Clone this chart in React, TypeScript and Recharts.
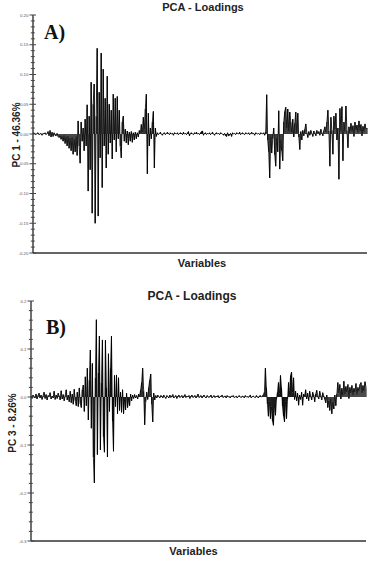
import React from 'react';
import { ComposedChart, Line, Bar, XAxis, YAxis, Label } from 'recharts';

// PC1 loadings (one value per variable)
const pc1Loadings = [
  0.001, 0.002, 0.000, -0.001, 0.001, 0.002, -0.001, 0.000, 0.001, -0.002,
  0.001, 0.000, 0.002, -0.001, 0.001, 0.004, -0.003, 0.006, -0.005, 0.003,
  -0.004, 0.002, -0.002, -0.003, 0.001, -0.004, -0.006, -0.002, -0.009, -0.003,
  -0.012, -0.002, -0.016, -0.004, -0.020, -0.003, -0.024, -0.006, -0.028, -0.005,
  -0.034, -0.008, -0.030, -0.004, -0.036, 0.022, -0.020, -0.049, 0.020, -0.012,
  0.010, -0.028, 0.025, -0.020, 0.049, -0.096, 0.030, -0.060, 0.087, -0.133,
  0.050, 0.084, -0.150, 0.030, 0.144, -0.138, 0.070, -0.040, 0.136, -0.090,
  0.109, -0.020, 0.060, -0.057, 0.097, -0.034, 0.050, -0.015, 0.040, -0.042,
  0.067, -0.010, 0.060, -0.030, 0.063, -0.008, 0.040, -0.020, -0.040, 0.020,
  0.030, -0.012, 0.008, -0.015, 0.005, -0.018, 0.003, -0.012, 0.004, -0.014,
  0.002, -0.010, 0.003, -0.008, 0.002, -0.005,
  0.006, 0.001, 0.016, 0.003, 0.028, 0.008, 0.042, 0.067, -0.067, 0.035,
  -0.020, 0.010, -0.008, 0.020, 0.038, -0.057, 0.010, -0.004,
  0.002, -0.001, 0.001, 0.003, 0.000, -0.002, 0.001, 0.002, -0.001, 0.001,
  0.003, 0.001, -0.001, 0.002, 0.000, 0.001, -0.002, 0.002, 0.001, 0.000,
  0.002, -0.001, 0.001, 0.002, 0.001, -0.001, 0.003, 0.000, 0.001, -0.001,
  0.002, 0.004, -0.003, 0.001, 0.002, 0.000, -0.001, 0.002, 0.001, 0.003,
  0.000, 0.001, -0.001, 0.002, 0.004, 0.005, -0.002, 0.001, 0.002, -0.001,
  0.001, 0.000, 0.002, -0.001, 0.001, 0.003, 0.000, -0.002, 0.001, 0.002,
  0.000, 0.001, -0.001, 0.002, 0.001, 0.000, -0.002, 0.001, -0.003, -0.004,
  0.002, -0.003, -0.002, 0.001, -0.004, 0.002, 0.000, 0.001, -0.001, 0.002,
  0.001, 0.000, 0.003, -0.001, 0.001, 0.002, 0.000, -0.001, 0.002, 0.001,
  0.000, 0.002, -0.001, 0.001, 0.003, 0.000, 0.001, -0.002, 0.002, 0.001,
  0.000, 0.001, -0.001, 0.002, 0.001, 0.000, 0.002, -0.002,
  0.004, 0.066, -0.010, -0.030, -0.074, -0.005, -0.032, -0.008, 0.010, -0.035,
  -0.054, -0.006, -0.030, 0.039, -0.059, -0.010, -0.028, -0.045, 0.020, 0.038,
  0.045, 0.010, 0.042, 0.005, 0.037, 0.020, 0.003, 0.025, -0.005, 0.018,
  0.037, 0.002, 0.035, -0.005, -0.026, 0.004, -0.010, 0.006, -0.003, 0.008,
  0.017, 0.002, -0.006, 0.004, -0.002, 0.006, 0.001, -0.004, 0.005, 0.002,
  -0.003, 0.006, 0.001, 0.004, -0.002, 0.008, 0.002, -0.003, 0.006, 0.012,
  0.003, 0.020, 0.040, 0.005, -0.054, 0.028, 0.006, -0.034, 0.030, 0.008,
  0.035, -0.010, 0.010, -0.076, 0.043, 0.005, 0.046, -0.045, 0.020, 0.004,
  0.047, 0.006, -0.023, 0.012, 0.002, 0.018, 0.004, 0.014, -0.004, 0.020,
  0.006, 0.015, 0.002, 0.022, 0.005, 0.016, -0.003, 0.013, 0.004, 0.017,
  0.008, 0.010,
];

// PC3 loadings (one value per variable)
const pc3Loadings = [
  0.002, -0.003, 0.004, 0.001, -0.002, 0.006, -0.004, 0.003, 0.008, -0.002,
  0.004, -0.005, 0.002, 0.010, -0.003, 0.005, -0.006, 0.003, 0.001, 0.009,
  -0.004, 0.002, -0.002, 0.012, -0.005, 0.004, -0.003, 0.008, 0.002, -0.006,
  0.013, -0.004, 0.005, -0.008, 0.003, 0.015, -0.006, 0.004, -0.010, 0.012,
  -0.012, 0.006, -0.015, 0.016, -0.008, -0.018, 0.010, -0.020, 0.019, -0.014,
  -0.022, 0.015, 0.025, -0.030, 0.042, -0.018, 0.060, -0.048, 0.035, 0.098,
  -0.065, 0.070, -0.125, -0.179, 0.040, 0.161, -0.120, 0.050, 0.127, -0.110,
  0.030, 0.119, -0.083, -0.115, 0.118, 0.020, -0.125, 0.090, -0.030, 0.060,
  0.127, -0.050, -0.113, 0.045, -0.020, 0.046, -0.035, 0.040, -0.028, 0.010,
  -0.032, 0.015, -0.035, -0.005, -0.027, 0.008, -0.022, -0.004, -0.018, 0.006,
  -0.008, 0.004, -0.003, 0.005, -0.002, 0.003, -0.004, 0.006, 0.002, 0.015,
  0.030, 0.060, 0.012, -0.058, -0.010, 0.010, -0.005, 0.020, 0.035, 0.048,
  -0.015, -0.052, 0.008, -0.006, 0.003, -0.002, 0.004, 0.001, -0.002, 0.003,
  0.002, -0.002, 0.004, 0.000, -0.003, 0.003, 0.001, -0.002, 0.004, -0.001,
  0.002, 0.005, -0.002, 0.001, 0.003, -0.003, 0.002, 0.004, -0.001, 0.001,
  0.003, -0.002, 0.002, 0.005, -0.001, 0.002, 0.000, 0.003, -0.003, 0.002,
  0.004, -0.001, 0.001, 0.003, -0.002, 0.002, 0.006, -0.001, 0.001, 0.003,
  -0.002, 0.002, 0.004, 0.000, -0.002, 0.003, 0.001, -0.001, 0.002, 0.004,
  -0.002, 0.001, 0.003, -0.001, 0.002, 0.000, 0.003, -0.002, 0.001, 0.002,
  0.004, -0.001, 0.001, 0.002, -0.002, 0.003, 0.000, 0.001, -0.002, 0.002,
  0.001, 0.003, -0.001, 0.000, 0.002, -0.002, 0.001, 0.003, 0.000, -0.001,
  0.002, 0.001, -0.002, 0.003, 0.000, 0.001, -0.001, 0.002, 0.004, -0.002,
  0.001, 0.002, 0.000, -0.001, 0.003, 0.001, -0.002, 0.002, 0.003, 0.000,
  0.002, 0.005,
  0.010, 0.060, 0.020, -0.015, -0.040, -0.010, -0.045, -0.020, -0.050,
  -0.059, -0.015, -0.038, -0.005, 0.010, 0.030, 0.008, 0.045, 0.020, -0.020,
  -0.040, -0.052, -0.010, -0.045, -0.005, 0.030, 0.005, 0.045, 0.052, 0.010,
  0.040, -0.005, 0.012, -0.008, 0.008, -0.017, 0.004, -0.005, 0.010, -0.017,
  0.006, 0.002, 0.015, -0.004, 0.008, -0.008, 0.012, 0.002, -0.006, 0.010,
  0.004, -0.010, 0.006, 0.014, 0.002, -0.004, 0.012, 0.003, -0.006, 0.009,
  0.002, -0.005, -0.012, 0.004, -0.022, -0.008, -0.028, -0.004, -0.035, -0.010,
  -0.025, 0.004, -0.018, 0.006, 0.030, 0.008, 0.026, -0.004, 0.018, 0.004,
  0.033, 0.006, 0.022, 0.010, 0.026, -0.003, 0.020, 0.008, 0.024, 0.004,
  0.018, 0.010, 0.028, 0.005, 0.020, 0.012, 0.026, 0.030, 0.008, 0.024,
  0.012, 0.032, 0.020,
];

const pc1MajorTicks = [0.2, 0.15, 0.1, 0.05, 0, -0.05, -0.1, -0.15, -0.2];
const pc1TickLabels = ['0.20', '0.15', '0.10', '0.05', '0.00', '-0.05', '-0.10', '-0.15', '-0.20'];
const pc1AllTicks = [
  0.2, 0.19, 0.18, 0.17, 0.16, 0.15, 0.14, 0.13, 0.12, 0.11, 0.1, 0.09, 0.08, 0.07, 0.06,
  0.05, 0.04, 0.03, 0.02, 0.01, 0, -0.01, -0.02, -0.03, -0.04, -0.05, -0.06, -0.07, -0.08,
  -0.09, -0.1, -0.11, -0.12, -0.13, -0.14, -0.15, -0.16, -0.17, -0.18, -0.19, -0.2,
];

const pc3MajorTicks = [0.2, 0.1, 0, -0.1, -0.2, -0.3];
const pc3TickLabels = ['0.2', '0.1', '0.0', '-0.1', '-0.2', '-0.3'];
const pc3AllTicks = [
  0.2, 0.18, 0.16, 0.14, 0.12, 0.1, 0.08, 0.06, 0.04, 0.02, 0, -0.02, -0.04, -0.06, -0.08,
  -0.1, -0.12, -0.14, -0.16, -0.18, -0.2, -0.22, -0.24, -0.26, -0.28, -0.3,
];

const SANS = '"Liberation Sans", Arial, Helvetica, sans-serif';
const SERIF = '"Liberation Serif", "Times New Roman", serif';

const LeftTick = (props: any) => {
  const { x, y, payload, majors, labels } = props;
  const idx = majors.findIndex((m: number) => Math.abs(m - payload.value) < 1e-6);
  const major = idx >= 0;
  return (
    <g>
      <line x1={x - (major ? 3.5 : 2.2)} x2={x + (major ? 3 : 1.8)} y1={y} y2={y} stroke="#444" strokeWidth={1} />
      {major && (
        <text x={x - 4.5} y={y} dy="0.35em" textAnchor="end" fontSize={4.4} fill="#555" fontFamily={SANS}>
          {labels[idx]}
        </text>
      )}
    </g>
  );
};

const RightTick = (props: any) => {
  const { x, y } = props;
  return <line x1={x - 2.5} x2={x} y1={y} y2={y} stroke="#777" strokeWidth={0.9} />;
};

const TopTick = (props: any) => {
  const { x, y } = props;
  return <line x1={x} x2={x} y1={y} y2={y + 2.5} stroke="#777" strokeWidth={0.9} />;
};

const YTitle = (props: any) => {
  const vb = props.viewBox || { x: 0, y: 0, width: 0, height: 0 };
  const cx = (vb.x || 0) + props.centerX;
  const cy = (vb.y || 0) + (vb.height || 0) / 2 + (props.shiftY || 0);
  return (
    <text
      x={cx}
      y={cy}
      transform={`rotate(-90 ${cx} ${cy})`}
      textAnchor="middle"
      dominantBaseline="central"
      fontFamily={SANS}
      fontSize={10}
      fontWeight="bold"
      fill="#222"
    >
      {props.caption}
    </text>
  );
};

const XTitle = (props: any) => {
  const vb = props.viewBox || { x: 0, y: 0, width: 0, height: 0 };
  const x = (vb.x || 0) + (vb.width || 0) / 2 + (props.shiftX || 0);
  const y = (vb.y || 0) + 14;
  return (
    <text x={x} y={y} textAnchor="middle" fontFamily={SANS} fontSize={11} fontWeight="bold" fill="#222">
      {props.caption}
    </text>
  );
};

const topTicks = Array.from({ length: 27 }, (_, k) => (k * 333) / 26);

type PanelProps = {
  values: number[];
  domain: [number, number];
  allTicks: number[];
  majors: number[];
  labels: string[];
  yTitle: string;
  width: number;
  height: number;
  margin: { top: number; right: number; bottom: number; left: number };
  yAxisWidth: number;
  xAxisHeight: number;
  yTitleX: number;
  yTitleShift: number;
  xTitleShift: number;
};

const Panel = (p: PanelProps) => {
  const data = p.values.map((v, idx) => ({ idx, v }));
  return (
    <ComposedChart width={p.width} height={p.height} data={data} margin={p.margin} barGap={0} barCategoryGap={0}>
      <XAxis
        dataKey="idx"
        type="number"
        domain={[0, p.values.length - 1]}
        height={p.xAxisHeight}
        tick={false}
        tickLine={false}
        axisLine={{ stroke: '#333', strokeWidth: 1.4 }}
      >
        <Label content={(lp: any) => <XTitle {...lp} caption="Variables" shiftX={p.xTitleShift} />} />
      </XAxis>
      <XAxis
        xAxisId="top"
        orientation="top"
        type="number"
        domain={[0, p.values.length - 1]}
        ticks={topTicks}
        interval={0}
        height={0}
        tickSize={0}
        tickMargin={0}
        tickLine={false}
        tick={<TopTick />}
        axisLine={{ stroke: '#888', strokeWidth: 1 }}
      />
      <YAxis
        type="number"
        domain={p.domain}
        ticks={p.allTicks}
        interval={0}
        width={p.yAxisWidth}
        tickSize={0}
        tickMargin={0}
        tickLine={false}
        tick={<LeftTick majors={p.majors} labels={p.labels} />}
        axisLine={{ stroke: '#333', strokeWidth: 1.4 }}
        allowDataOverflow
      >
        <Label content={(lp: any) => <YTitle {...lp} caption={p.yTitle} centerX={p.yTitleX} shiftY={p.yTitleShift} />} />
      </YAxis>
      <YAxis
        yAxisId="right"
        orientation="right"
        type="number"
        domain={p.domain}
        ticks={p.allTicks}
        interval={0}
        width={0}
        tickSize={0}
        tickMargin={0}
        tickLine={false}
        tick={<RightTick />}
        axisLine={{ stroke: '#888', strokeWidth: 1 }}
      />
      <Bar dataKey="v" fill="#111" barSize={1} isAnimationActive={false} />
      <Line
        type="linear"
        dataKey="v"
        stroke="#000"
        strokeWidth={0.8}
        dot={false}
        activeDot={false}
        isAnimationActive={false}
      />
    </ComposedChart>
  );
};

const textBase: React.CSSProperties = {
  position: 'absolute',
  fontFamily: SANS,
  fontWeight: 'bold',
  color: '#222',
  whiteSpace: 'nowrap',
  textAlign: 'center',
  lineHeight: 'normal',
};

export default function App() {
  return (
    <div style={{ position: 'absolute', left: 0, top: 0, width: 381, height: 567, background: '#fff', overflow: 'hidden' }}>
      <div style={{ position: 'absolute', left: 0, top: 0 }}>
        <Panel
          values={pc1Loadings}
          domain={[-0.2, 0.2]}
          allTicks={pc1AllTicks}
          majors={pc1MajorTicks}
          labels={pc1TickLabels}
          yTitle="PC 1 - 46.36%"
          width={381}
          height={280}
          margin={{ top: 15, right: 14, bottom: 0, left: 0 }}
          yAxisWidth={33}
          xAxisHeight={27}
          yTitleX={16}
          yTitleShift={1}
          xTitleShift={2}
        />
      </div>
      <div style={{ position: 'absolute', left: 0, top: 280 }}>
        <Panel
          values={pc3Loadings}
          domain={[-0.3, 0.2]}
          allTicks={pc3AllTicks}
          majors={pc3MajorTicks}
          labels={pc3TickLabels}
          yTitle="PC 3 - 8.26%"
          width={381}
          height={287}
          margin={{ top: 21, right: 15, bottom: 0, left: 0 }}
          yAxisWidth={31}
          xAxisHeight={26}
          yTitleX={12.3}
          yTitleShift={2}
          xTitleShift={-5}
        />
      </div>
      <div style={{ ...textBase, left: 103, top: 0.5, width: 200, fontSize: 11 }}>PCA - Loadings</div>
      <div style={{ ...textBase, left: 92, top: 289, width: 200, fontSize: 12 }}>PCA - Loadings</div>
      <div style={{ ...textBase, fontFamily: SERIF, color: '#111', left: 44, top: 20.5, fontSize: 20, textAlign: 'left' }}>A)</div>
      <div style={{ ...textBase, fontFamily: SERIF, color: '#111', left: 46, top: 316, fontSize: 20, textAlign: 'left' }}>B)</div>
    </div>
  );
}
